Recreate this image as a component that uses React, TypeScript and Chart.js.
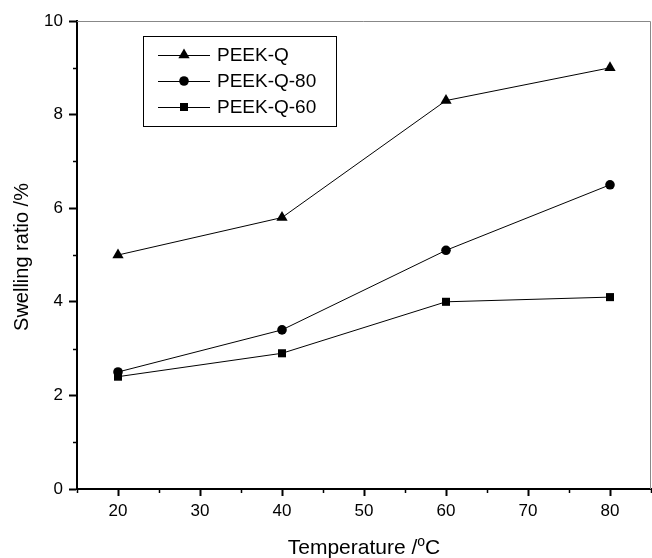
import React, { useEffect, useRef } from "react";
import { Chart, registerables } from "chart.js";

Chart.register(...registerables);

const temperatures = [20, 40, 60, 80];
const peekQ = [5.0, 5.8, 8.3, 9.0];
const peekQ80 = [2.5, 3.4, 5.1, 6.5];
const peekQ60 = [2.4, 2.9, 4.0, 4.1];
const seriesNames = ["PEEK-Q", "PEEK-Q-80", "PEEK-Q-60"];
const xMajorTicks = [20, 30, 40, 50, 60, 70, 80];
const xMinorTicks = [15, 25, 35, 45, 55, 65, 75, 85];
const yMajorTicks = [0, 2, 4, 6, 8, 10];
const yMinorTicks = [1, 3, 5, 7, 9];
const xTitleMain = "Temperature /";
const xTitleSup = "o";
const xTitleUnit = "C";
const yTitle = "Swelling ratio /%";

const FONT = "'Liberation Sans', Arial, sans-serif";

function drawMarker(ctx: CanvasRenderingContext2D, style: string, x: number, y: number) {
  ctx.save();
  ctx.fillStyle = "#000";
  ctx.beginPath();
  if (style === "triangle") {
    const r = 6.5;
    ctx.moveTo(x, y - r);
    ctx.lineTo(x + r * 0.866, y + r * 0.5);
    ctx.lineTo(x - r * 0.866, y + r * 0.5);
    ctx.closePath();
  } else if (style === "circle") {
    ctx.arc(x, y, 4.8, 0, Math.PI * 2);
  } else {
    ctx.rect(x - 4, y - 4, 8, 8);
  }
  ctx.fill();
  ctx.restore();
}

const framePlugin = {
  id: "framePlugin",
  afterDraw(chart: any) {
    const ctx: CanvasRenderingContext2D = chart.ctx;
    const { left, right, top, bottom } = chart.chartArea;
    const xs = chart.scales.x;
    const ys = chart.scales.y;
    ctx.save();
    // top & right frame
    ctx.strokeStyle = "#888";
    ctx.lineWidth = 1;
    ctx.beginPath();
    ctx.moveTo(left, top + 0.5);
    ctx.lineTo(right - 0.5, top + 0.5);
    ctx.lineTo(right - 0.5, bottom);
    ctx.stroke();
    // minor ticks
    ctx.strokeStyle = "#000";
    ctx.lineWidth = 1.5;
    ctx.beginPath();
    xMinorTicks.forEach((v) => {
      const px = Math.round(xs.getPixelForValue(v)) + 0.5;
      ctx.moveTo(px, bottom);
      ctx.lineTo(px, bottom + 4);
    });
    yMinorTicks.forEach((v) => {
      const py = Math.round(ys.getPixelForValue(v)) + 0.5;
      ctx.moveTo(left, py);
      ctx.lineTo(left - 4, py);
    });
    ctx.stroke();
    // x title with superscript degree
    ctx.fillStyle = "#000";
    ctx.textBaseline = "alphabetic";
    ctx.textAlign = "left";
    const mainFont = `21px ${FONT}`;
    const supFont = `14px ${FONT}`;
    ctx.font = mainFont;
    const wMain = ctx.measureText(xTitleMain).width;
    const wUnit = ctx.measureText(xTitleUnit).width;
    ctx.font = supFont;
    const wSup = ctx.measureText(xTitleSup).width;
    const total = wMain + wSup + wUnit;
    let tx = 364 - total / 2;
    const baseY = 554;
    ctx.font = mainFont;
    ctx.fillText(xTitleMain, tx, baseY);
    tx += wMain;
    ctx.font = supFont;
    ctx.fillText(xTitleSup, tx, baseY - 8);
    tx += wSup;
    ctx.font = mainFont;
    ctx.fillText(xTitleUnit, tx, baseY);
    // y title
    ctx.font = `20px ${FONT}`;
    ctx.textAlign = "center";
    ctx.textBaseline = "middle";
    ctx.save();
    ctx.translate(22, (top + bottom) / 2 + 2);
    ctx.rotate(-Math.PI / 2);
    ctx.fillText(yTitle, 0, 0);
    ctx.restore();
    // legend
    const bx = 143, by = 36, bw = 193, bh = 90;
    ctx.strokeStyle = "#000";
    ctx.lineWidth = 1;
    ctx.strokeRect(bx + 0.5, by + 0.5, bw, bh);
    const styles = ["triangle", "circle", "rect"];
    const rows = [55, 81, 107];
    ctx.font = `19px ${FONT}`;
    ctx.textAlign = "left";
    seriesNames.forEach((name, i) => {
      const y = rows[i];
      ctx.beginPath();
      ctx.moveTo(158, y + 0.5);
      ctx.lineTo(210, y + 0.5);
      ctx.stroke();
      drawMarker(ctx, styles[i], 184, y);
      ctx.fillStyle = "#000";
      ctx.fillText(name, 217, y + 1);
    });
    ctx.restore();
  },
};

export default function App() {
  const ref = useRef<HTMLCanvasElement | null>(null);
  useEffect(() => {
    if (!ref.current) return;
    const mk = (label: string, data: number[], style: string, r: number) => ({
      label,
      data: temperatures.map((t, i) => ({ x: t, y: data[i] })),
      borderColor: "#000",
      backgroundColor: "#000",
      borderWidth: 1,
      pointStyle: style,
      pointRadius: r,
      pointBorderWidth: 0,
      tension: 0,
    });
    const chart = new Chart(ref.current, {
      type: "line",
      data: {
        datasets: [
          mk(seriesNames[0], peekQ, "triangle", 6.5),
          mk(seriesNames[1], peekQ80, "circle", 4.8),
          mk(seriesNames[2], peekQ60, "rect", 5.7),
        ],
      },
      options: {
        animation: false,
        responsive: false,
        devicePixelRatio: 1,
        layout: { autoPadding: false, padding: { left: 0, right: 1, top: 21, bottom: 0 } },
        plugins: { legend: { display: false }, tooltip: { enabled: false } },
        scales: {
          x: {
            type: "linear",
            min: 15,
            max: 85,
            afterBuildTicks: (s: any) => {
              s.ticks = xMajorTicks.map((v) => ({ value: v }));
            },
            afterFit: (s: any) => {
              s.height = 69;
              s.paddingLeft = 0;
              s.paddingRight = 0;
            },
            ticks: {
              color: "#000",
              font: { family: FONT, size: 17 },
              padding: 5,
              maxRotation: 0,
              autoSkip: false,
            },
            grid: {
              drawOnChartArea: false,
              drawTicks: true,
              tickLength: 7,
              tickColor: "#000",
              tickWidth: 2,
            },
            border: { display: true, color: "#000", width: 2 },
          },
          y: {
            type: "linear",
            min: 0,
            max: 10,
            afterBuildTicks: (s: any) => {
              s.ticks = yMajorTicks.map((v) => ({ value: v }));
            },
            afterFit: (s: any) => {
              s.width = 77;
              s.paddingTop = 0;
              s.paddingBottom = 0;
            },
            ticks: {
              color: "#000",
              font: { family: FONT, size: 17 },
              padding: 6,
              autoSkip: false,
            },
            grid: {
              drawOnChartArea: false,
              drawTicks: true,
              tickLength: 8,
              tickColor: "#000",
              tickWidth: 2,
            },
            border: { display: true, color: "#000", width: 2 },
          },
        },
      },
      plugins: [framePlugin],
    } as any);
    return () => chart.destroy();
  }, []);
  return (
    <canvas
      ref={ref}
      width={652}
      height={558}
      style={{ position: "fixed", left: 0, top: 0, display: "block", background: "#fff" }}
    />
  );
}
